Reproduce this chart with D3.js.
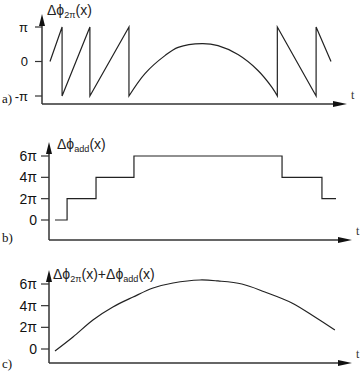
<!DOCTYPE html>
<html><head><meta charset="utf-8">
<script src="https://cdn.jsdelivr.net/npm/d3@7"></script>
<style>html,body{margin:0;padding:0;background:#fff}svg{display:block}</style>
</head><body>
<svg id="c" width="363" height="374"></svg>
<script>
// ---- data (t in arbitrary units 0..100, phase values in units of π) ----
const wrappedT = [0, 4.3, 4.3, 14.2, 14.2, 28.1, 28.1, 33.8, 40.9, 45.6, 54.1, 59.8, 66.9, 74.0, 79.0, 80.9, 80.9, 94.7, 94.7, 100];
const wrappedV = [0, 1, -1, 1, -1, 1, -1, -0.35, 0.17, 0.41, 0.52, 0.46, 0.2, -0.26, -0.75, -1, 1, -1, 1, 0];
const stepT = [0, 4.3, 14.6, 28.1, 80.8, 95.0, 100];
const stepV = [0, 2, 4, 6, 4, 2, 2];
const unwrappedT = [0, 6.4, 13.5, 20.6, 27.8, 34.9, 42.0, 51.6, 58.0, 66.5, 74.7, 84.3, 92.5, 99.6];
const unwrappedV = [-0.18, 1.11, 2.68, 3.88, 4.80, 5.63, 6.09, 6.37, 6.28, 6.0, 5.26, 4.25, 2.95, 1.75];
const ticksA = [1, 0, -1];
const tickLabelsA = ["π", "0", "-π"];
const ticksB = [6, 4, 2, 0];
const tickLabelsB = ["6π", "4π", "2π", "0"];
const ticksC = [6, 4, 2, 0];
const tickLabelsC = ["6π", "4π", "2π", "0"];
const panelLabels = ["a)", "b)", "c)"];

const svg = d3.select("#c");
const axisCol = "#333", lineCol = "#222";
const sans = "'Liberation Sans', Arial, sans-serif";

function drawPanel(cfg) {
  const g = svg.append("g");
  const x = d3.scaleLinear().domain([0, 100]).range(cfg.xr);
  const y = d3.scaleLinear().domain(cfg.yd).range(cfg.yr);
  // axes
  g.append("line").attr("x1", cfg.ax).attr("x2", cfg.ax).attr("y1", cfg.ay).attr("y2", cfg.ytop + 8)
    .attr("stroke", axisCol).attr("stroke-width", 1.5);
  g.append("path").attr("d", `M${cfg.ax},${cfg.ytop} L${cfg.ax - 3},${cfg.ytop + 12} L${cfg.ax + 3},${cfg.ytop + 12}Z`).attr("fill", "#111");
  g.append("line").attr("x1", cfg.ax).attr("x2", cfg.xend - 8).attr("y1", cfg.ay).attr("y2", cfg.ay)
    .attr("stroke", axisCol).attr("stroke-width", 1.5);
  g.append("path").attr("d", `M${cfg.xend},${cfg.ay} L${cfg.xend - 14},${cfg.ay - 3} L${cfg.xend - 14},${cfg.ay + 3}Z`).attr("fill", "#111");
  g.append("text").attr("x", cfg.xend + 4).attr("y", cfg.ay - 5).attr("font-family", "'Liberation Serif', serif")
    .attr("font-size", 12).attr("fill", "#333").text("t");
  // ticks
  cfg.ticks.forEach((v, i) => {
    g.append("line").attr("x1", cfg.ax - cfg.tl).attr("x2", cfg.ax).attr("y1", y(v)).attr("y2", y(v))
      .attr("stroke", axisCol).attr("stroke-width", 1.2);
    g.append("text").attr("x", cfg.ax - cfg.lg).attr("y", y(v)).attr("dy", "0.36em").attr("text-anchor", "end")
      .attr("font-family", sans).attr("font-size", cfg.tf).attr("fill", "#111").text(cfg.labels[i]);
  });
  // panel label
  g.append("text").attr("x", 2).attr("y", cfg.py).attr("font-family", "'Liberation Serif', serif")
    .attr("font-size", 13).attr("fill", "#111").text(cfg.pl);
  // title
  const tt = g.append("text").attr("x", cfg.tx).attr("y", cfg.ty).attr("font-family", sans)
    .attr("font-size", cfg.fs).attr("fill", "#222");
  cfg.title.forEach(p => {
    const s = tt.append("tspan").text(p[0]);
    if (p[1]) s.attr("font-size", cfg.fs * 0.65).attr("dy", 3);
    else if (p[2]) s.attr("dy", -3);
  });
  return {g, x, y};
}

// panel a
{
  const {g, x, y} = drawPanel({xr: [50, 331], yd: [-1, 1], yr: [96, 27], ax: 42, ay: 104, ytop: 14, xend: 347,
    tl: 7, lg: 14, tf: 13,
    ticks: ticksA, labels: tickLabelsA, pl: panelLabels[0], py: 103, tx: 47, ty: 15, fs: 14,
    title: [["Δϕ"], ["2π", true], ["(x)", false, true]]});
  const line = d3.line().x(d => x(d[0])).y(d => y(d[1])).curve(d3.curveCatmullRom.alpha(0.5));
  const pts = wrappedT.map((t, i) => [t, wrappedV[i]]);
  const runs = [];
  let cur = [pts[0]];
  for (let i = 1; i < pts.length; i++) {
    if (pts[i][0] === pts[i - 1][0]) { runs.push(cur); cur = [pts[i]]; }
    else cur.push(pts[i]);
  }
  runs.push(cur);
  const d = runs.map((r, i) => { const s = line(r); return i === 0 ? s : "L" + s.slice(1); }).join("");
  g.append("path").attr("d", d).attr("fill", "none").attr("stroke", lineCol).attr("stroke-width", 1.2);
}
// panel b
{
  const {g, x, y} = drawPanel({xr: [55, 336], yd: [0, 6], yr: [220, 156], ax: 49, ay: 240, ytop: 142, xend: 352,
    tl: 8, lg: 12, tf: 14,
    ticks: ticksB, labels: tickLabelsB, pl: panelLabels[1], py: 242, tx: 57, ty: 149, fs: 14,
    title: [["Δϕ"], ["add", true], ["(x)", false, true]]});
  const line = d3.line().x((t, i) => x(t)).y((t, i) => y(stepV[i])).curve(d3.curveStepAfter);
  g.append("path").attr("d", line(stepT)).attr("fill", "none").attr("stroke", lineCol).attr("stroke-width", 1.2);
}
// panel c
{
  const {g, x, y} = drawPanel({xr: [55, 336], yd: [0, 6], yr: [349, 284], ax: 49, ay: 363, ytop: 270, xend: 352,
    tl: 8, lg: 12, tf: 14,
    ticks: ticksC, labels: tickLabelsC, pl: panelLabels[2], py: 368, tx: 53, ty: 279, fs: 14,
    title: [["Δϕ"], ["2π", true], ["(x)+Δϕ", false, true], ["add", true], ["(x)", false, true]]});
  const line = d3.line().x((t, i) => x(t)).y((t, i) => y(unwrappedV[i])).curve(d3.curveCatmullRom.alpha(0.5));
  g.append("path").attr("d", line(unwrappedT)).attr("fill", "none").attr("stroke", lineCol).attr("stroke-width", 1.2);
}
</script>
</body></html>
